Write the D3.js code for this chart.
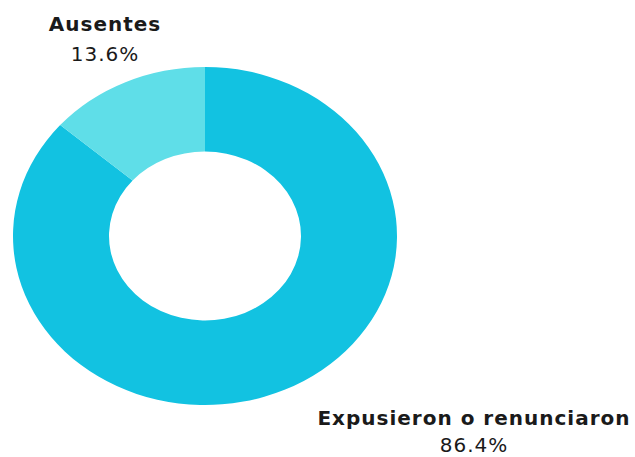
<!DOCTYPE html>
<html>
<head>
<meta charset="utf-8">
<script src="https://cdn.jsdelivr.net/npm/d3@7"></script>
<style>
  html, body { margin: 0; padding: 0; background: #fff; overflow: hidden; }
  svg { display: block; }
  text { font-family: "DejaVu Sans", sans-serif; fill: #1a1a1a; letter-spacing: 1px; }
</style>
</head>
<body>
<svg id="chart" width="635" height="457"></svg>
<script>
// Shares of the group, in percent
const categories = ["Ausentes", "Expusieron o renunciaron"];
const values = [13.6, 86.4];
const colors = ["#5fdee8", "#12c2e1"];

const width = 635, height = 457;
const cx = 205, cy = 236;
const rx = 192, ry = 169;          // outer radii (ring is slightly wider than tall)
const innerRatio = 0.5;

const svg = d3.select("#chart");

const pie = d3.pie()
  .sort(null)
  .value(d => d.value)
  .startAngle(0)
  .endAngle(2 * Math.PI);

// Ausentes sits just counter-clockwise of 12 o'clock
const data = [
  { name: categories[1], value: values[1], color: colors[1] },
  { name: categories[0], value: values[0], color: colors[0] }
];

const arc = d3.arc()
  .innerRadius(ry * innerRatio)
  .outerRadius(ry);

const ring = svg.append("g")
  .attr("transform", `translate(${cx},${cy}) scale(${rx / ry},1)`);

ring.selectAll("path")
  .data(pie(data))
  .join("path")
  .attr("d", arc)
  .attr("fill", d => d.data.color);

const fmt = v => d3.format(".1f")(v) + "%";

const labels = [
  { name: categories[0], value: values[0], x: 105, y: 31, gap: 30 },
  { name: categories[1], value: values[1], x: 474, y: 425, gap: 27 }
];

const lg = svg.append("g").selectAll("g").data(labels).join("g");
lg.append("text")
  .attr("x", d => d.x).attr("y", d => d.y)
  .attr("text-anchor", "middle")
  .attr("font-size", 20)
  .attr("font-weight", 600)
  .text(d => d.name);
lg.append("text")
  .attr("x", d => d.x).attr("y", d => d.y + d.gap)
  .attr("text-anchor", "middle")
  .attr("font-size", 20)
  .attr("font-weight", 400)
  .text(d => fmt(d.value));
</script>
</body>
</html>
